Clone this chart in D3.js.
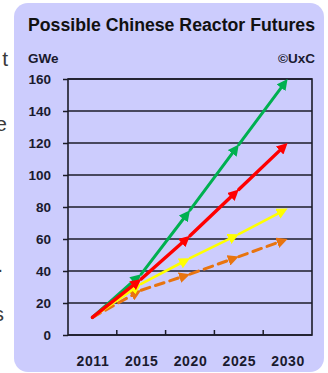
<!DOCTYPE html>
<html>
<head>
<meta charset="utf-8">
<script src="https://cdn.jsdelivr.net/npm/d3@7"></script>
<style>
  html, body { margin: 0; padding: 0; background: #ffffff; }
  svg { display: block; }
</style>
</head>
<body>
<svg id="chart" width="328" height="373"></svg>
<script>
// ---- data ----
const categories = ["2011", "2015", "2020", "2025", "2030"];
const greenSeries  = [11, 38, 78, 119, 160];
const redSeries    = [11, 35, 62, 91, 120];
const yellowSeries = [11, 32, 48, 63, 79];
const orangeSeries = [11, 28, 38, 49, 60];
const yTicks = [0, 20, 40, 60, 80, 100, 120, 140, 160];
const titleText = "Possible Chinese Reactor Futures";
const unitText = "GWe";
const sourceText = "\u00A9UxC";

(function () {
const svg = d3.select("#chart");

// panel
svg.append("rect")
  .attr("x", 14).attr("y", 3)
  .attr("width", 310).attr("height", 369)
  .attr("rx", 14).attr("ry", 14)
  .attr("fill", "#ccccfd");

// cut-off text fragments of the surrounding page
const frag = [["t", 8, 66], ["e", 7, 131], [".", 3, 272], ["s", 4, 321]];
svg.selectAll("text.frag").data(frag).enter().append("text")
  .attr("class", "frag")
  .attr("x", d => d[1]).attr("y", d => d[2])
  .attr("text-anchor", "end")
  .attr("font-family", "Liberation Sans, Arial, sans-serif")
  .attr("font-size", 21)
  .attr("fill", "#3a3a3a")
  .text(d => d[0]);

const pLeft = 68, pRight = 312, pTop = 79, pBottom = 335;

const x = d3.scalePoint().domain(categories).range([pLeft, pRight]).padding(0.5);
const xb = d3.scaleBand().domain(categories).range([pLeft, pRight]);
const y = d3.scaleLinear().domain([0, 160]).range([pBottom, pTop]);

// title
svg.append("text")
  .attr("x", 28).attr("y", 31)
  .attr("font-family", "Liberation Sans, Arial, sans-serif")
  .attr("font-weight", "bold")
  .attr("font-size", 17.5)
  .attr("fill", "#111")
  .attr("textLength", 287)
  .attr("lengthAdjust", "spacingAndGlyphs")
  .text(titleText);

svg.append("text")
  .attr("x", 28).attr("y", 63)
  .attr("font-family", "Liberation Sans, Arial, sans-serif")
  .attr("font-weight", "bold")
  .attr("font-size", 13.5)
  .attr("fill", "#1a1a2e")
  .text(unitText);

svg.append("text")
  .attr("x", 315).attr("y", 63)
  .attr("text-anchor", "end")
  .attr("font-family", "Liberation Sans, Arial, sans-serif")
  .attr("font-weight", "bold")
  .attr("font-size", 13.5)
  .attr("fill", "#1a1a2e")
  .text(sourceText);

const gridCol = "#1c1c28";
svg.append("g")
  .attr("transform", `translate(${pLeft},0)`)
  .call(d3.axisLeft(y).tickValues(yTicks).tickSize(5).tickFormat(d => d))
  .call(g => g.select(".domain").remove())
  .call(g => g.selectAll(".tick line").attr("stroke", gridCol).attr("stroke-width", 1.5))
  .call(g => g.selectAll(".tick text")
      .attr("x", -17)
      .attr("font-family", "Liberation Sans, Arial, sans-serif")
      .attr("font-weight", "bold")
      .attr("font-size", 13.5)
      .attr("fill", "#1a1a2e"));

// gridlines
svg.append("g").selectAll("line").data(yTicks).enter().append("line")
  .attr("x1", pLeft).attr("x2", pRight)
  .attr("y1", d => y(d)).attr("y2", d => y(d))
  .attr("stroke", gridCol).attr("stroke-width", 1.5);

// plot frame
svg.append("rect")
  .attr("x", pLeft).attr("y", pTop)
  .attr("width", pRight - pLeft).attr("height", pBottom - pTop)
  .attr("fill", "none").attr("stroke", gridCol).attr("stroke-width", 1.6);

// x axis inner ticks at category boundaries
const boundaries = categories.slice(1).map(c => xb(c));
svg.append("g").selectAll("line").data(boundaries).enter().append("line")
  .attr("x1", d => d).attr("x2", d => d)
  .attr("y1", pBottom).attr("y2", pBottom - 5)
  .attr("stroke", gridCol).attr("stroke-width", 1.5);

// x labels
svg.append("g")
  .attr("transform", `translate(0,${pBottom})`)
  .call(d3.axisBottom(x).tickSize(0).tickPadding(0))
  .call(g => g.select(".domain").remove())
  .call(g => g.selectAll(".tick text")
      .attr("y", 31)
      .attr("dy", 0)
      .attr("font-family", "Liberation Sans, Arial, sans-serif")
      .attr("font-weight", "bold")
      .attr("font-size", 14)
      .attr("letter-spacing", 0.6)
      .attr("fill", "#1a1a2e"));

// series
const seriesList = [
  { name: "orange", values: orangeSeries, color: "#e8740f", dash: "9,6", width: 3 },
  { name: "yellow", values: yellowSeries, color: "#ffff00", dash: null, width: 2.6 },
  { name: "green",  values: greenSeries,  color: "#00b050", dash: null, width: 3 },
  { name: "red",    values: redSeries,    color: "#ff0000", dash: null, width: 3.4 }
];

const defs = svg.append("defs");
seriesList.forEach(s => {
  defs.append("marker")
    .attr("id", "arrow-" + s.name)
    .attr("viewBox", "0 0 10 10")
    .attr("refX", 10).attr("refY", 5)
    .attr("markerUnits", "userSpaceOnUse")
    .attr("markerWidth", 11).attr("markerHeight", 11)
    .attr("orient", "auto")
    .append("path")
    .attr("d", "M0,0 L10,5 L0,10 Z")
    .attr("fill", s.color);
});

const line = d3.line().x(d => d[0]).y(d => d[1]);

seriesList.forEach(s => {
  const pts = s.values.map((v, i) => [x(categories[i]), y(v)]);
  const segs = d3.pairs(pts);
  const g = svg.append("g");
  segs.forEach(([a, b]) => {
    const dx = b[0] - a[0], dy = b[1] - a[1];
    const len = Math.hypot(dx, dy);
    const k = (len - 6) / len;
    const bEnd = [a[0] + dx * k, a[1] + dy * k];
    g.append("path")
      .attr("d", line([a, bEnd]))
      .attr("fill", "none")
      .attr("stroke", s.color)
      .attr("stroke-width", s.width)
      .attr("stroke-dasharray", s.dash)
      .attr("stroke-linecap", "round");
    g.append("path")
      .attr("d", line([a, b]))
      .attr("fill", "none")
      .attr("stroke", "none")
      .attr("marker-end", `url(#arrow-${s.name})`);
  });
});
})();
</script>
</body>
</html>
